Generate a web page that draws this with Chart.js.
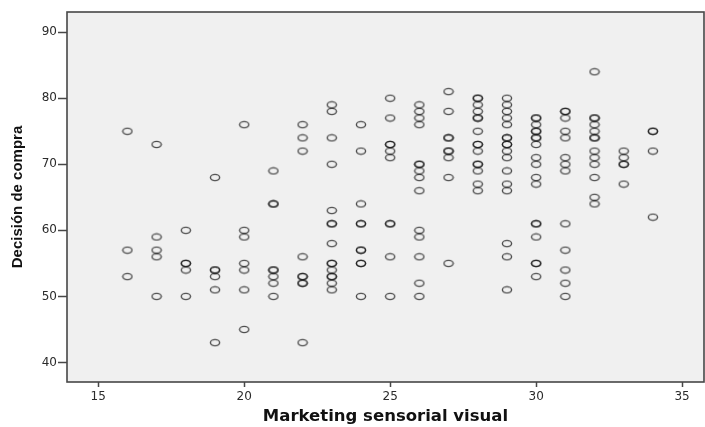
<!DOCTYPE html>
<html>
<head>
<meta charset="utf-8">
<script src="https://cdn.jsdelivr.net/npm/chart.js@4.4.1/dist/chart.umd.min.js"></script>
<style>
  html, body { margin: 0; padding: 0; background: #fff; }
  canvas { display: block; }
</style>
</head>
<body>
<canvas id="scatter" width="705" height="427"></canvas>
<script>
// Marketing sensorial visual score (x) and the decision scores observed at each one (y)
const scores = [16, 17, 18, 19, 20, 21, 22, 23, 24, 25, 26, 27, 28, 29, 30, 31, 32, 33, 34]
const decisions = [
  [75, 57, 53],
  [73, 59, 57, 56, 50],
  [60, 55, 55, 54, 50],
  [68, 54, 54, 53, 51, 43],
  [76, 60, 59, 55, 54, 51, 45],
  [69, 64, 64, 54, 54, 53, 52, 50],
  [76, 74, 72, 56, 53, 53, 52, 52, 43],
  [79, 78, 74, 70, 63, 61, 61, 58, 55, 55, 54, 53, 53, 52, 51],
  [76, 72, 64, 61, 61, 57, 57, 55, 55, 50],
  [80, 77, 73, 73, 72, 71, 61, 61, 56, 50],
  [79, 78, 77, 76, 70, 70, 69, 68, 66, 60, 59, 56, 52, 50],
  [81, 78, 74, 74, 72, 72, 71, 68, 55],
  [80, 80, 79, 78, 77, 77, 75, 73, 73, 72, 70, 70, 69, 67, 66],
  [80, 79, 78, 77, 76, 74, 74, 73, 73, 72, 71, 69, 67, 66, 58, 56, 51],
  [77, 77, 76, 75, 75, 74, 74, 73, 71, 70, 68, 67, 61, 61, 59, 55, 55, 53],
  [78, 78, 77, 75, 74, 71, 70, 69, 61, 57, 54, 52, 50],
  [84, 77, 77, 76, 75, 74, 74, 72, 71, 70, 68, 65, 64],
  [72, 71, 70, 70, 67],
  [75, 75, 72, 62]
]
const xTicks = [15, 20, 25, 30, 35]
const yTicks = [40, 50, 60, 70, 80, 90]

const points = []
scores.forEach((s, i) => {
  decisions[i].forEach(d => points.push({ x: s, y: d }))
})

// hollow oval marker, drawn once and reused for every point
function makeMarker() {
  const c = document.createElement("canvas")
  c.width = 12
  c.height = 9
  const g = c.getContext("2d")
  g.strokeStyle = "rgba(25, 25, 25, 0.75)"
  g.lineWidth = 1.4
  g.beginPath()
  g.ellipse(6, 4.5, 4.6, 3.1, 0, 0, Math.PI * 2)
  g.stroke()
  return c
}

const plotFrame = {
  id: "plotFrame",
  beforeDraw(chart) {
    const { ctx, chartArea: a } = chart
    ctx.save()
    ctx.fillStyle = "#f0f0f0"
    ctx.fillRect(a.left, a.top, a.right - a.left, a.bottom - a.top)
    ctx.restore()
  },
  afterDraw(chart) {
    const { ctx, chartArea: a } = chart
    ctx.save()
    ctx.strokeStyle = "#474747"
    ctx.lineWidth = 1.6
    ctx.strokeRect(a.left, a.top, a.right - a.left, a.bottom - a.top)
    ctx.restore()
  }
}

const tickFont = { family: "DejaVu Sans", size: 12 }

new Chart(document.getElementById("scatter").getContext("2d"), {
  type: "scatter",
  data: {
    datasets: [{
      data: points,
      pointStyle: makeMarker(),
      pointRadius: 5,
      pointHoverRadius: 5
    }]
  },
  options: {
    responsive: false,
    animation: false,
    layout: { autoPadding: false, padding: { top: 12, right: 1, left: 0, bottom: 0 } },
    plugins: {
      legend: { display: false },
      tooltip: { enabled: false }
    },
    scales: {
      x: {
        type: "linear",
        min: 13.93,
        max: 35.75,
        afterBuildTicks: scale => { scale.ticks = xTicks.map(v => ({ value: v })) },
        afterFit: scale => {
          scale.height = 45
          scale.paddingLeft = 0
          scale.paddingRight = 0
        },
        border: { display: false },
        grid: { drawOnChartArea: false, drawTicks: true, tickLength: 5, tickColor: "#474747", tickWidth: 1.5 },
        ticks: { font: tickFont, color: "#2b2b2b", padding: 3, maxRotation: 0 },
        title: {
          display: true,
          text: "Marketing sensorial visual",
          font: { family: "DejaVu Sans", size: 16.5, weight: "bold" },
          color: "#111",
          padding: { top: 0, bottom: 0 }
        }
      },
      y: {
        type: "linear",
        min: 37.05,
        max: 93.05,
        afterBuildTicks: scale => { scale.ticks = yTicks.map(v => ({ value: v })) },
        afterFit: scale => {
          scale.width = 67
          scale.paddingTop = 0
          scale.paddingBottom = 0
        },
        border: { display: false },
        grid: { drawOnChartArea: false, drawTicks: true, tickLength: 9, tickColor: "#474747", tickWidth: 1.5 },
        ticks: { font: tickFont, color: "#2b2b2b", padding: 1 },
        title: {
          display: true,
          text: "Decisión de compra",
          font: { family: "Liberation Sans", size: 15, weight: "bold" },
          color: "#111",
          padding: { top: 9, bottom: 0 }
        }
      }
    }
  },
  plugins: [plotFrame]
})
</script>
</body>
</html>
